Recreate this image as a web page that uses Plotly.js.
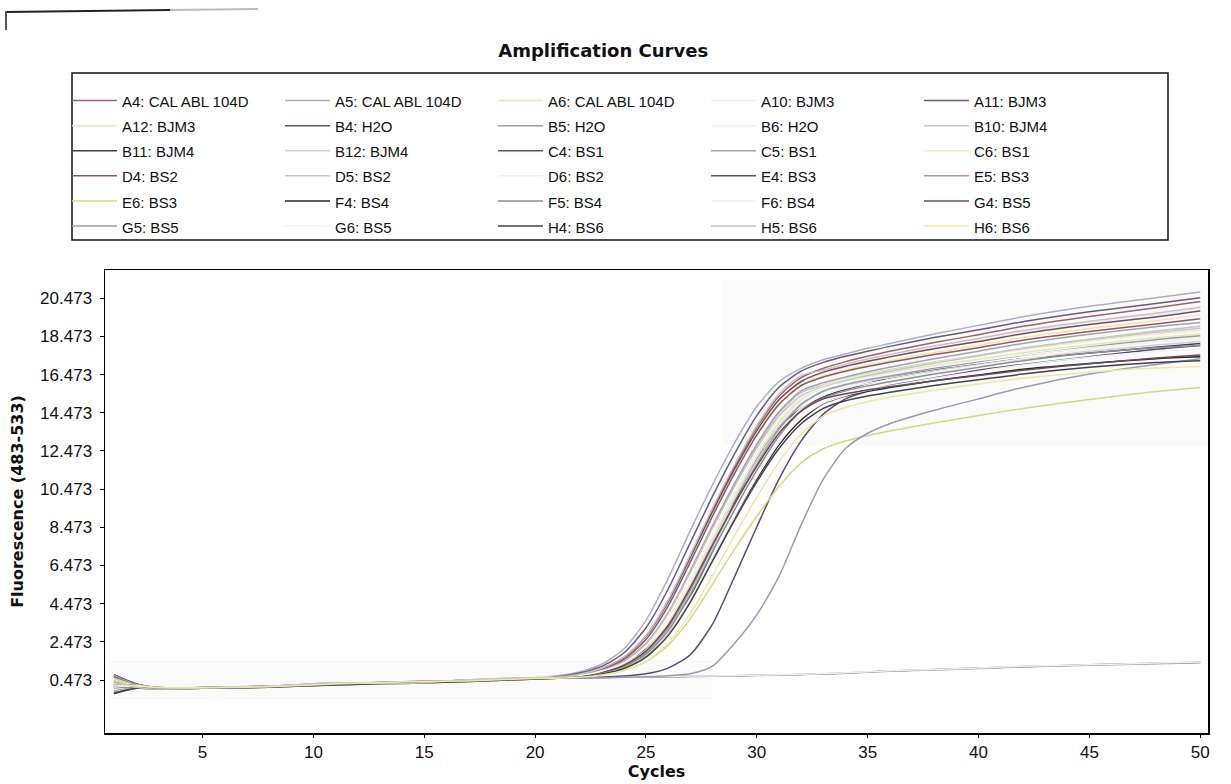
<!DOCTYPE html>
<html><head><meta charset="utf-8">
<script src="https://cdn.plot.ly/plotly-3.0.1.min.js"></script>
<style>html,body{margin:0;padding:0;background:#fff}#chart{width:1231px;height:784px}</style>
</head><body><div id="chart"></div>
<script>
const CYCLES = [1,2,3,5,8,11,14,17,20,21,22,23,24,25,26,27,28,29,30,31,32,33,34,35,36,38,40,42,45,48,50];

const WELLS = ['A4: CAL ABL 104D','A5: CAL ABL 104D','A6: CAL ABL 104D','A10: BJM3','A11: BJM3',
  'A12: BJM3','B4: H2O','B5: H2O','B6: H2O','B10: BJM4',
  'B11: BJM4','B12: BJM4','C4: BS1','C5: BS1','C6: BS1',
  'D4: BS2','D5: BS2','D6: BS2','E4: BS3','E5: BS3',
  'E6: BS3','F4: BS4','F5: BS4','F6: BS4','G4: BS5',
  'G5: BS5','G6: BS5','H4: BS6','H5: BS6','H6: BS6'];

const A4  = [0.7,0.25,0.05,0.05,0.12,0.28,0.33,0.42,0.55,0.62,0.78,1.08,1.66,2.78,4.62,6.98,9.40,11.66,13.71,15.34,16.31,16.8,17.15,17.43,17.69,18.15,18.56,19.0,19.52,19.97,20.3];
const A5  = [0.1,0.15,0.05,0.08,0.15,0.3,0.36,0.45,0.57,0.7,0.9,1.3,2.1,3.6,5.8,8.3,10.7,12.9,14.8,16.1,16.8,17.25,17.55,17.85,18.1,18.6,19.05,19.5,20.05,20.5,20.8];
const A6  = [-0.2,0.05,0.02,0.04,0.1,0.22,0.3,0.4,0.53,0.62,0.77,1.07,1.63,2.73,4.52,6.82,9.18,11.39,13.38,14.97,15.91,16.4,16.71,16.97,17.2,17.63,18.0,18.41,18.89,19.29,19.6];
const A10 = [0.4,0.1,0.0,0.06,0.14,0.32,0.28,0.48,0.6,0.6,0.76,1.05,1.6,2.7,4.5,6.85,9.2,11.45,13.5,15.1,16.05,16.55,16.85,17.15,17.4,17.85,18.25,18.7,19.2,19.6,19.9];
const A11 = [0.2,0.2,0.08,0.07,0.12,0.26,0.38,0.43,0.56,0.64,0.84,1.19,1.89,3.21,5.23,7.67,10.09,12.33,14.32,15.81,16.65,17.11,17.43,17.69,17.95,18.41,18.82,19.24,19.76,20.2,20.5];
const A12 = [0.6,0.22,0.06,0.06,0.13,0.27,0.34,0.41,0.54,0.57,0.68,0.9,1.28,2.05,3.45,5.51,7.84,10.08,12.14,13.93,15.15,15.81,16.12,16.36,16.56,16.95,17.28,17.62,18.04,18.4,18.6];
const B4  = [0.15,0.12,0.04,0.07,0.14,0.29,0.35,0.46,0.58,0.6,0.6,0.62,0.63,0.64,0.65,0.67,0.68,0.7,0.72,0.74,0.77,0.8,0.84,0.9,0.95,1.02,1.1,1.18,1.27,1.35,1.4];
const B5  = [-0.1,0.08,0.03,0.05,0.11,0.24,0.31,0.42,0.55,0.58,0.59,0.6,0.62,0.63,0.64,0.66,0.67,0.69,0.71,0.73,0.76,0.79,0.83,0.88,0.93,1.0,1.08,1.16,1.25,1.33,1.38];
const B6  = [0.35,0.12,0.01,0.06,0.13,0.31,0.3,0.47,0.59,0.61,0.62,0.63,0.64,0.65,0.66,0.68,0.69,0.71,0.73,0.75,0.78,0.81,0.85,0.91,0.96,1.03,1.11,1.19,1.28,1.36,1.42];
const B10 = [0.25,0.18,0.07,0.07,0.13,0.27,0.37,0.44,0.56,0.59,0.73,0.98,1.45,2.38,3.98,6.16,8.5,10.72,12.75,14.45,15.53,15.93,16.26,16.51,16.73,17.13,17.48,17.83,18.26,18.67,18.9];
const B11 = [0.75,0.28,0.05,0.04,0.11,0.28,0.32,0.42,0.55,0.6,0.7,0.9,1.3,2.1,3.3,4.9,7.2,9.8,12.0,13.7,14.7,15.3,15.7,16.0,16.3,16.7,17.0,17.3,17.6,17.9,18.1];
const B12 = [0.05,0.14,0.05,0.08,0.16,0.31,0.36,0.45,0.57,0.57,0.68,0.89,1.27,2.03,3.41,5.44,7.74,9.95,11.98,13.75,14.95,15.61,15.91,16.13,16.31,16.68,16.99,17.3,17.69,18.02,18.2];
const C4  = [-0.25,0.04,0.02,0.04,0.1,0.23,0.3,0.4,0.53,0.62,0.78,1.08,1.64,2.76,4.57,6.9,9.29,11.53,13.54,15.15,16.11,16.6,16.91,17.17,17.4,17.83,18.2,18.61,19.09,19.49,19.8];
const C5  = [0.45,0.1,0.0,0.06,0.15,0.33,0.29,0.49,0.6,0.6,0.74,1.0,1.47,2.4,4.0,6.2,8.55,10.78,12.82,14.52,15.62,16.05,16.35,16.62,16.86,17.3,17.7,18.1,18.58,18.98,19.2];
const C6  = [0.15,0.2,0.08,0.07,0.12,0.26,0.38,0.43,0.56,0.57,0.68,0.9,1.28,2.05,3.46,5.54,7.88,10.14,12.21,14.01,15.24,15.91,16.24,16.49,16.69,17.1,17.45,17.8,18.23,18.61,18.8];
const D4  = [0.65,0.24,0.06,0.05,0.12,0.29,0.33,0.43,0.56,0.61,0.75,1.03,1.55,2.6,4.35,6.65,9.05,11.3,13.3,14.9,15.9,16.35,16.65,16.9,17.12,17.52,17.88,18.27,18.73,19.12,19.4];
const D5  = [0.12,0.16,0.05,0.09,0.15,0.3,0.35,0.46,0.58,0.59,0.72,0.97,1.44,2.36,3.95,6.1,8.42,10.62,12.62,14.3,15.36,15.82,16.15,16.42,16.65,17.06,17.45,17.85,18.32,18.75,19.0];
const D6  = [-0.15,0.06,0.03,0.04,0.1,0.22,0.31,0.4,0.54,0.57,0.66,0.86,1.2,1.9,3.15,5.1,7.35,9.55,11.6,13.4,14.7,15.4,15.75,16.0,16.2,16.6,16.95,17.3,17.8,18.2,18.4];
const E4  = [0.38,0.11,0.01,0.06,0.14,0.31,0.29,0.47,0.59,0.57,0.59,0.62,0.68,0.8,1.1,1.8,3.4,5.9,8.5,11.0,13.0,14.4,15.2,15.6,15.9,16.3,16.7,17.0,17.4,17.8,18.0];
const E5  = [0.22,0.19,0.08,0.07,0.13,0.27,0.37,0.44,0.56,0.57,0.66,0.86,1.21,1.92,3.2,5.18,7.46,9.7,11.78,13.6,14.9,15.6,15.95,16.2,16.4,16.8,17.15,17.48,17.92,18.3,18.5];
const E6  = [0.55,0.22,0.05,0.06,0.13,0.27,0.34,0.42,0.55,0.57,0.63,0.75,0.99,1.43,2.29,3.69,5.49,7.33,9.05,10.61,11.85,12.59,12.99,13.28,13.52,13.94,14.33,14.69,15.17,15.59,15.8];
const F4  = [0.08,0.14,0.06,0.08,0.15,0.3,0.36,0.45,0.57,0.57,0.63,0.8,1.1,1.7,2.85,4.6,6.8,9.0,11.0,12.8,14.1,14.95,15.35,15.6,15.8,16.15,16.45,16.75,17.05,17.3,17.4];
const F5  = [-0.18,0.05,0.02,0.05,0.11,0.23,0.3,0.41,0.54,0.57,0.65,0.84,1.17,1.83,3.05,4.95,7.2,9.4,11.45,13.25,14.55,15.25,15.62,15.88,16.1,16.5,16.85,17.2,17.6,17.88,18.0];
const F6  = [0.42,0.09,0.0,0.06,0.14,0.32,0.28,0.48,0.6,0.57,0.63,0.8,1.1,1.7,2.85,4.65,6.85,9.05,11.1,12.9,14.2,14.98,15.38,15.65,15.88,16.28,16.64,16.98,17.38,17.68,17.8];
const G4  = [0.18,0.21,0.08,0.07,0.12,0.26,0.38,0.43,0.56,0.57,0.68,0.88,1.25,1.99,3.33,5.31,7.55,9.7,11.68,13.4,14.57,15.21,15.47,15.67,15.83,16.15,16.43,16.7,17.04,17.34,17.5];
const G5  = [0.72,0.26,0.05,0.05,0.12,0.28,0.33,0.42,0.55,0.57,0.58,0.6,0.62,0.65,0.7,0.8,1.2,2.4,3.9,5.9,8.6,11.0,12.6,13.4,13.9,14.6,15.2,15.8,16.5,17.0,17.3];
const G6  = [0.1,0.15,0.05,0.08,0.15,0.3,0.36,0.45,0.57,0.58,0.7,0.93,1.36,2.2,3.7,5.8,8.1,10.35,12.4,14.15,15.27,15.78,16.08,16.32,16.52,16.88,17.2,17.5,17.88,18.18,18.3];
const H4  = [-0.22,0.04,0.02,0.04,0.1,0.22,0.3,0.4,0.53,0.57,0.63,0.79,1.08,1.67,2.8,4.55,6.7,8.85,10.85,12.6,13.9,14.7,15.1,15.35,15.55,15.9,16.2,16.5,16.85,17.1,17.2];
const H5  = [0.4,0.1,0.0,0.06,0.14,0.32,0.28,0.48,0.6,0.62,0.78,1.09,1.67,2.8,4.65,7.03,9.47,11.75,13.8,15.45,16.42,16.7,17.02,17.29,17.53,17.97,18.36,18.78,19.27,19.69,20.0];
const H6  = [0.2,0.2,0.08,0.07,0.12,0.26,0.38,0.43,0.56,0.57,0.62,0.74,0.98,1.45,2.4,3.95,5.95,8.05,10.05,11.9,13.35,14.3,14.75,15.05,15.28,15.65,15.98,16.28,16.6,16.82,16.9];

const SERIES = [A4,A5,A6,A10,A11,A12,B4,B5,B6,B10,B11,B12,C4,C5,C6,D4,D5,D6,E4,E5,E6,F4,F5,F6,G4,G5,G6,H4,H5,H6];

const X_TICKS = [5,10,15,20,25,30,35,40,45,50];
const Y_TICK_VALUES = [0.473,2.473,4.473,6.473,8.473,10.473,12.473,14.473,16.473,18.473,20.473];
const Y_TICK_LABELS = ['0.473','2.473','4.473','6.473','8.473','10.473','12.473','14.473','16.473','18.473','20.473'];

// styles
const COLORS = ['#a0606e','#b2aacb','#ece4b0','#f0eaf0','#6a5a7a',
  '#e2e8b4','#6e5056','#a09a9c','#f0f0f0','#c4c4cc',
  '#3c3c6c','#d0d0d4','#7a4a5c','#a4a4a8','#eeeebc',
  '#8c5a62','#c4c4c4','#f2f2e2','#5c4a70','#9c9ca6',
  '#d0da7c','#262626','#8e8e8e','#f0f0f0','#6c4a5c',
  '#9a9ab8','#f2f2f2','#444444','#c2c2c2','#ece8a4'];

const L = 105, R = 23, T = 270, B = 51, W = 1231, H = 784;
const PW = W - L - R, PH = H - T - B;
const px = v => (v - L) / PW;
const py = v => (H - B - v) / PH;

const traces = WELLS.map((w, i) => ({
  type: 'scatter', mode: 'lines', x: CYCLES, y: SERIES[i],
  name: '<span style="font-size:15px">' + w + '</span>',
  line: {color: COLORS[i], width: 1.5, shape: 'spline', smoothing: 0.7},
  hoverinfo: 'skip'
}));

const FONT = 'Liberation Sans, Arial, sans-serif';
const BOLD = 'DejaVu Sans, sans-serif';

const layout = {
  width: W, height: H,
  margin: {l: L, r: R, t: T, b: B, pad: 0},
  paper_bgcolor: '#ffffff', plot_bgcolor: '#ffffff',
  font: {family: FONT, color: '#111111'},
  title: {text: '<b>Amplification Curves</b>', font: {family: BOLD, size: 18, color: '#111'},
          x: 0.49, xref: 'container', xanchor: 'center', y: 1 - 51 / H, yref: 'container', yanchor: 'middle'},
  showlegend: true,
  legend: {orientation: 'h', x: px(67), xanchor: 'left', y: py(83), yanchor: 'top',
           font: {family: FONT, size: 17, color: '#111'}, bgcolor: 'rgba(0,0,0,0)', borderwidth: 0,
           itemwidth: 45, entrywidth: 153, entrywidthmode: 'pixels', traceorder: 'normal', itemclick: false},
  xaxis: {range: [0.6, 50.35], tickmode: 'array', tickvals: X_TICKS, ticks: 'outside', ticklen: 3, tickcolor: '#000',
          showline: true, mirror: true, linecolor: '#000', linewidth: 1.5, showgrid: false, zeroline: false,
          tickfont: {family: FONT, size: 17, color: '#111'},
          title: {text: '<b>Cycles</b>', font: {family: BOLD, size: 16, color: '#111'}, standoff: 2}},
  yaxis: {range: [-2.3, 21.95], tickmode: 'array', tickvals: Y_TICK_VALUES, ticktext: Y_TICK_LABELS, ticks: 'outside', ticklen: 4, tickcolor: '#000',
          ticklabelstandoff: 4,
          showline: true, mirror: true, linecolor: '#000', linewidth: 1.5, showgrid: false, zeroline: false,
          tickfont: {family: FONT, size: 17, color: '#111'},
          title: {text: '<b>Fluorescence (483-533)</b>', font: {family: BOLD, size: 16, color: '#111'}, standoff: 12}},
  shapes: [
    {type: 'rect', xref: 'paper', yref: 'paper', x0: px(72), x1: px(1168), y0: py(240), y1: py(73),
     line: {color: '#111', width: 1.5}, fillcolor: 'rgba(0,0,0,0)'},
    {type: 'rect', xref: 'paper', yref: 'paper', x0: px(722), x1: px(1212), y0: py(445), y1: py(280),
     line: {width: 0}, fillcolor: 'rgba(0,0,0,0.02)', layer: 'below'},
    {type: 'rect', xref: 'paper', yref: 'paper', x0: px(110), x1: px(712), y0: py(700), y1: py(660),
     line: {width: 0}, fillcolor: 'rgba(0,0,0,0.018)', layer: 'below'},
    {type: 'line', xref: 'paper', yref: 'paper', x0: px(6), x1: px(170), y0: py(12), y1: py(10),
     line: {color: '#222', width: 2}},
    {type: 'line', xref: 'paper', yref: 'paper', x0: px(170), x1: px(258), y0: py(10), y1: py(9),
     line: {color: '#bbb', width: 2}},
    {type: 'line', xref: 'paper', yref: 'paper', x0: px(6), x1: px(6), y0: py(30), y1: py(11),
     line: {color: '#555', width: 2}}
  ]
};

Plotly.newPlot('chart', traces, layout, {displayModeBar: false, staticPlot: true});
</script></body></html>
